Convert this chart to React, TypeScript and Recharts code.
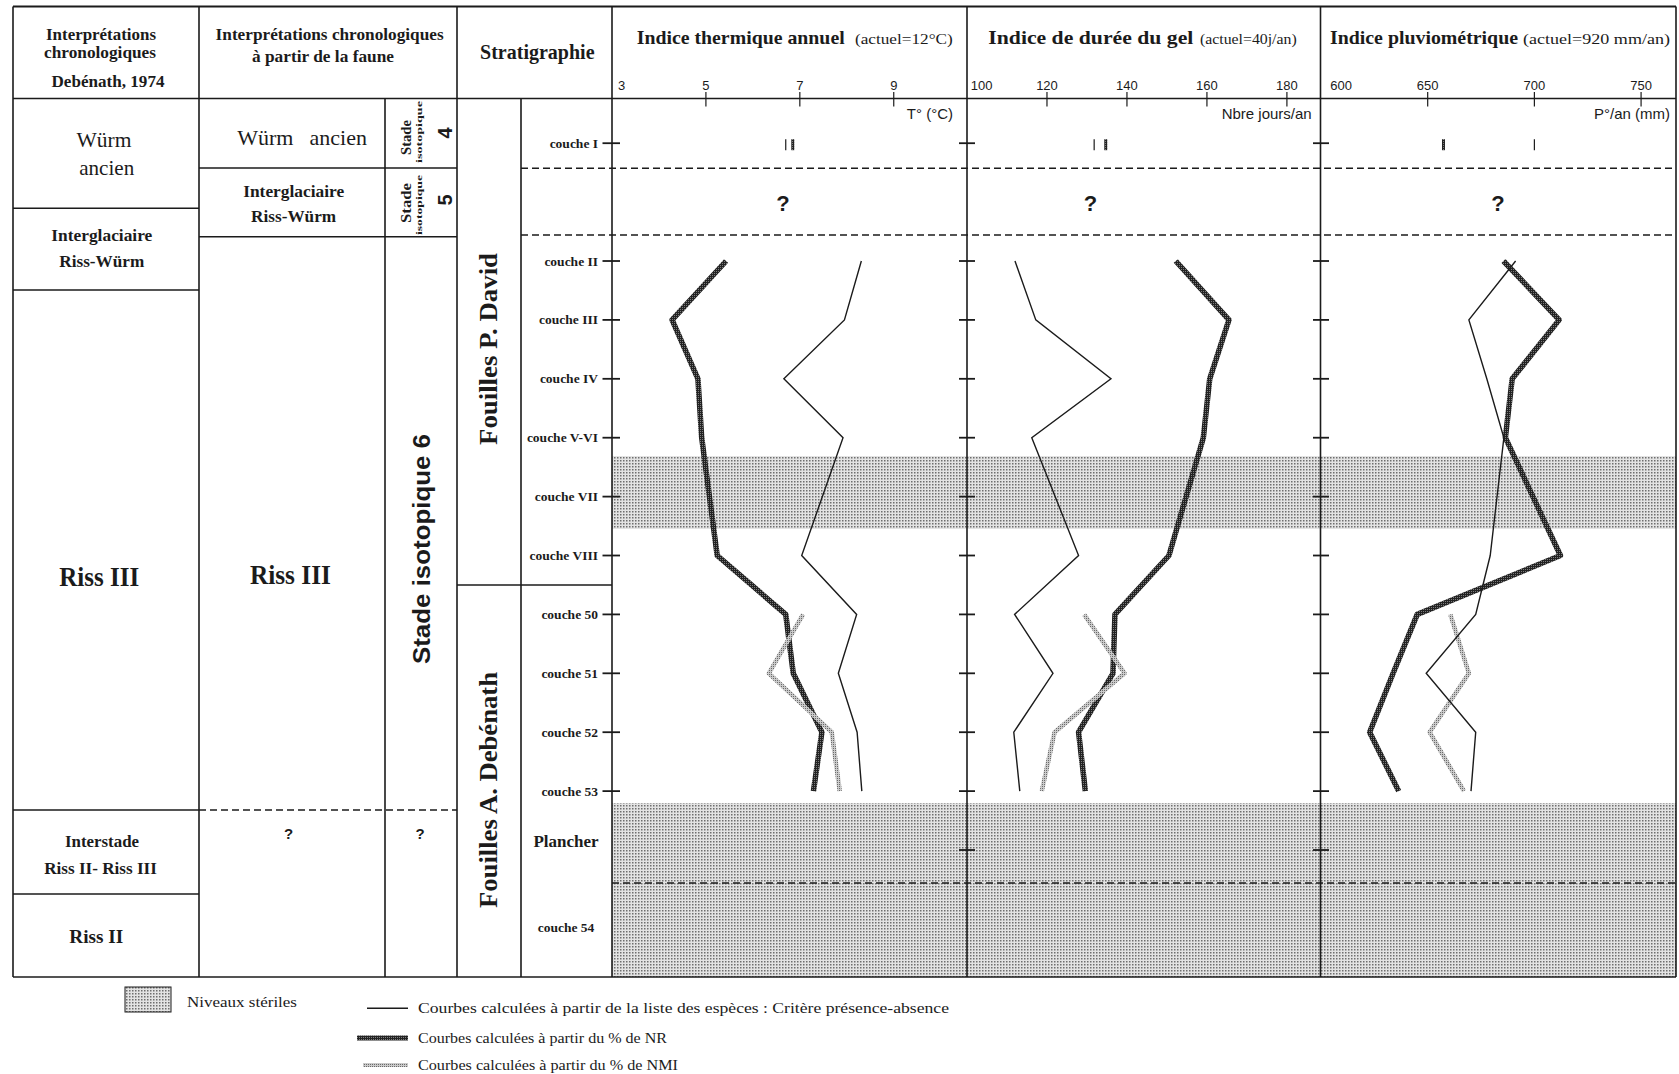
import React from "react"
import { ComposedChart, Line, XAxis, YAxis, ReferenceArea } from "recharts"

// ---- data ----
const layers = [
  "couche II", "couche III", "couche IV", "couche V-VI", "couche VII",
  "couche VIII", "couche 50", "couche 51", "couche 52", "couche 53",
]
const layerPos = [2, 3, 4, 5, 6, 7, 8, 9, 10, 11]

const axisLabels = [
  "couche I", "couche II", "couche III", "couche IV", "couche V-VI", "couche VII",
  "couche VIII", "couche 50", "couche 51", "couche 52", "couche 53", "Plancher", "couche 54",
]
const axisLabelPos = [0, 2, 3, 4, 5, 6, 7, 8, 9, 10, 11, 12, 13.31]
const tickPos = [0, 2, 3, 4, 5, 6, 7, 8, 9, 10, 11, 12]

// niveaux stériles (in layer units)
const sterileBands: [number, number][] = [
  [5.31, 6.55],
  [11.2, 14.156],
]

// Indice thermique annuel (°C)
const tempTicks = [3, 5, 7, 9]
const tempPA = [8.31, 7.95, 6.66, 7.92, null, 7.04, 8.21, 7.82, 8.22, 8.32]
const tempNR = [5.43, 4.28, 4.83, 4.91, null, 5.24, 6.7, 6.86, 7.47, 7.29]
const tempNMI = [null, null, null, null, null, null, 7.07, 6.34, 7.68, 7.85]
const tempCoucheI = [6.7, 6.85] // présence-absence, NR

// Indice de durée du gel (jours/an)
const gelTicks = [100, 120, 140, 160, 180]
const gelPA = [112.0, 117.2, 136.0, 116.2, null, 127.9, 111.9, 121.5, 111.7, 113.2]
const gelNR = [152.2, 165.5, 160.7, 159.1, null, 150.5, 137.0, 136.5, 127.9, 129.6]
const gelNMI = [null, null, null, null, null, null, 129.3, 139.4, 121.9, 118.7]
const gelCoucheI = [131.8, 134.7]

// Indice pluviométrique (mm/an)
const pluvTicks = [600, 650, 700, 750]
const pluvPA = [691.2, 669.3, 677.7, 685.7, null, 679.3, 672.5, 649.3, 672.5, 670.3]
const pluvNR = [685.5, 711.6, 689.6, 686.4, null, 712.2, 645.1, 633.8, 622.8, 636.4]
const pluvNMI = [null, null, null, null, null, null, 660.6, 669.3, 650.9, 667.0]
const pluvCoucheI = [700.0, 657.4]

const buildRows = (pa: (number | null)[], nr: (number | null)[], nmi: (number | null)[]) =>
  layers.map((name, i) => ({ name, pos: layerPos[i], pa: pa[i], nr: nr[i], nmi: nmi[i] }))

// ---- look ----
const INK = "#1b1b1b"
const SERIF = "'Liberation Serif', 'Times New Roman', serif"
const SANS = "'Liberation Sans', Arial, sans-serif"
const CHART_TOP = 40
const CHART_H = 937
const AXIS_H = 58.5
const Y_DOMAIN: [number, number] = [-0.759, 14.156]

function TopTick(props: any) {
  const { x, y, payload, index, lead } = props
  const first = index === 0
  return (
    <g>
      {!first && <line x1={x} x2={x} y1={y - 6.5} y2={y + 8} stroke={INK} strokeWidth={1.2} />}
      <text
        x={first ? x + lead : x}
        y={y - 8.5}
        textAnchor={first ? "start" : "middle"}
        fontFamily={SANS}
        fontSize={13}
        fill={INK}
      >
        {payload.value}
      </text>
    </g>
  )
}

function LabelTick(props: any) {
  const { x, y, payload } = props
  const name = axisLabels[axisLabelPos.indexOf(payload.value)]
  const plancher = name === "Plancher"
  const centred = plancher || name === "couche 54"
  return (
    <g>
      {!centred && <line x1={x - 9.5} x2={x + 8} y1={y} y2={y} stroke={INK} strokeWidth={1.8} />}
      <text
        x={centred ? x - 46 : x - 14}
        y={plancher ? y - 3.5 : y + 4.5}
        textAnchor={centred ? "middle" : "end"}
        fontFamily={SERIF}
        fontWeight="bold"
        fontSize={plancher ? 17 : 13.5}
        fill={INK}
      >
        {name}
      </text>
    </g>
  )
}

function CrossTick(props: any) {
  const { x, y } = props
  return <line x1={x - 8} x2={x + 8} y1={y} y2={y} stroke={INK} strokeWidth={1.8} />
}

const paMark = (p: any) => (
  <line key={`pa${p.index}`} x1={p.cx} x2={p.cx} y1={p.cy - 4} y2={p.cy + 7} stroke={INK} strokeWidth={1.2} />
)
const nrMark = (p: any) => (
  <rect key={`nr${p.index}`} x={p.cx - 1.5} y={p.cy - 4} width={3} height={11} fill="url(#nrTex)" />
)

interface PanelProps {
  left: number
  width: number
  yWidth: number
  domain: [number, number]
  ticks: number[]
  lead: number
  rows: any[]
  coucheI: number[]
  labels: boolean
}

function Panel({ left, width, yWidth, domain, ticks, lead, rows, coucheI, labels }: PanelProps) {
  return (
    <div style={{ position: "absolute", left, top: CHART_TOP, width, height: CHART_H }}>
      <ComposedChart
        width={width}
        height={CHART_H}
        layout="vertical"
        data={rows}
        margin={{ top: 0, right: 0, bottom: 0, left: 0 }}
      >
        <XAxis
          type="number"
          orientation="top"
          domain={domain}
          ticks={ticks}
          allowDataOverflow
          height={AXIS_H}
          axisLine={false}
          tickLine={false}
          tickSize={0}
          tickMargin={0}
          interval={0}
          tick={(p: any) => <TopTick {...p} lead={lead} />}
        />
        <YAxis
          type="number"
          dataKey="pos"
          domain={Y_DOMAIN}
          allowDataOverflow
          ticks={labels ? axisLabelPos : tickPos}
          width={yWidth}
          axisLine={false}
          tickLine={false}
          tickSize={0}
          tickMargin={0}
          interval={0}
          tick={(p: any) => (labels ? <LabelTick {...p} /> : <CrossTick {...p} />)}
        />
        {sterileBands.map(([a, b], i) => (
          <ReferenceArea key={i} y1={a} y2={b} fill="url(#sterile)" fillOpacity={1} stroke="none" ifOverflow="visible" />
        ))}
        <Line dataKey="nr" stroke="url(#nrTex)" strokeWidth={5.5} strokeLinejoin="round" dot={false} connectNulls={false} isAnimationActive={false} />
        <Line dataKey="nmi" stroke="url(#nmiTex)" strokeWidth={4.5} strokeLinejoin="round" dot={false} connectNulls={false} isAnimationActive={false} />
        <Line dataKey="pa" stroke={INK} strokeWidth={1.4} dot={false} connectNulls={false} isAnimationActive={false} />
        <Line data={[{ pos: 0, v: coucheI[1] }]} dataKey="v" stroke="none" dot={nrMark} isAnimationActive={false} />
        <Line data={[{ pos: 0, v: coucheI[0] }]} dataKey="v" stroke="none" dot={paMark} isAnimationActive={false} />
      </ComposedChart>
    </div>
  )
}

function T({ x, y, s, w, b, a = "middle", f = SERIF, r, children }: any) {
  return (
    <text
      x={x}
      y={y}
      fontSize={s}
      fontWeight={b ? "bold" : "normal"}
      textAnchor={a}
      fontFamily={f}
      textLength={w}
      lengthAdjust={w ? "spacingAndGlyphs" : undefined}
      transform={r ? `rotate(-90 ${x} ${y})` : undefined}
      fill={INK}
    >
      {children}
    </text>
  )
}

const hLines = [
  [13, 1676, 6.5], [13, 1676, 98.5], [13, 1676, 977],
  [13, 199, 208.3], [13, 199, 290], [13, 199, 810], [13, 199, 894],
  [199, 457, 168], [199, 457, 236.7], [457, 612, 585],
]
const vLines = [
  [13, 6.5, 977], [199, 6.5, 977], [385, 98.5, 977], [457, 6.5, 977], [521, 98.5, 977],
  [612, 6.5, 977], [967, 6.5, 977], [1320.5, 6.5, 977], [1676, 6.5, 977],
]
const dashed = [
  [199, 457, 810], [521, 1676, 168.3], [521, 1676, 235], [612, 1676, 883],
]

export default function App() {
  return (
    <div style={{ position: "absolute", left: 0, top: 0, width: 1679, height: 1074, background: "#fff" }}>
      <svg width={0} height={0} style={{ position: "absolute" }}>
        <defs>
          <pattern id="sterile" width={3} height={3} patternUnits="userSpaceOnUse">
            <rect width={3} height={3} fill="#e3e3e3" />
            <rect width={1.5} height={1.5} fill="#6e6e6e" />
          </pattern>
          <pattern id="nrTex" width={2} height={2} patternUnits="userSpaceOnUse">
            <rect width={2} height={2} fill="#222222" />
            <rect x={1} y={1} width={1} height={1} fill="#7c7c7c" />
          </pattern>
          <pattern id="nmiTex" width={2} height={2} patternUnits="userSpaceOnUse">
            <rect width={2} height={2} fill="#cacaca" />
            <rect width={1} height={1} fill="#6a6a6a" />
          </pattern>
        </defs>
      </svg>

      <Panel left={521} width={446} yWidth={91} domain={[3, 10.56]} ticks={tempTicks} lead={6}
        rows={buildRows(tempPA, tempNR, tempNMI)} coucheI={tempCoucheI} labels />
      <Panel left={952} width={368.5} yWidth={15} domain={[100, 188.4]} ticks={gelTicks} lead={3.7}
        rows={buildRows(gelPA, gelNR, gelNMI)} coucheI={gelCoucheI} labels={false} />
      <Panel left={1305.5} width={370.5} yWidth={15} domain={[600, 766.6]} ticks={pluvTicks} lead={9.3}
        rows={buildRows(pluvPA, pluvNR, pluvNMI)} coucheI={pluvCoucheI} labels={false} />

      <svg width={1679} height={1074} style={{ position: "absolute", left: 0, top: 0, pointerEvents: "none" }}>
        {hLines.map(([x1, x2, y], i) => (
          <line key={`h${i}`} x1={x1} x2={x2} y1={y} y2={y} stroke={INK} strokeWidth={i === 0 ? 2.2 : 1.6} />
        ))}
        {vLines.map(([x, y1, y2], i) => (
          <line key={`v${i}`} x1={x} x2={x} y1={y1} y2={y2} stroke={INK} strokeWidth={1.6} />
        ))}
        {dashed.map(([x1, x2, y], i) => (
          <line key={`d${i}`} x1={x1} x2={x2} y1={y} y2={y} stroke={INK} strokeWidth={1.5} strokeDasharray="7 4" />
        ))}

        {/* column 1 */}
        <T x={101} y={40} s={16.5} b w={110}>Interprétations</T>
        <T x={100} y={58} s={16.5} b w={112}>chronologiques</T>
        <T x={108} y={87} s={16.5} b w={113}>Debénath, 1974</T>
        <T x={104} y={147} s={22} w={55}>Würm</T>
        <T x={106.7} y={175} s={22} w={55}>ancien</T>
        <T x={101.8} y={241} s={17} b w={101}>Interglaciaire</T>
        <T x={101.8} y={267} s={17} b w={85}>Riss-Würm</T>
        <T x={99.2} y={586} s={27} b w={80}>Riss III</T>
        <T x={102} y={847} s={17} b w={74}>Interstade</T>
        <T x={100.6} y={874} s={16.5} b w={112.7}>Riss II- Riss III</T>
        <T x={96.3} y={943} s={19.5} b w={54}>Riss II</T>

        {/* column 2 */}
        <T x={329.6} y={39.5} s={16.5} b w={228}>Interprétations chronologiques</T>
        <T x={323} y={62} s={16.5} b w={142}>à partir de la faune</T>
        <T x={237.2} y={145} s={22} a="start">Würm</T>
        <T x={366.9} y={145} s={22} a="end">ancien</T>
        <T x={293.7} y={196.5} s={17} b w={101}>Interglaciaire</T>
        <T x={293.6} y={222} s={17} b w={85}>Riss-Würm</T>
        <T x={290.4} y={584} s={27} b w={81}>Riss III</T>
        <T x={288.6} y={839} s={15} b f={SANS}>?</T>

        {/* stades isotopiques */}
        <T x={411} y={137.5} s={15} b w={35} r>Stade</T>
        <T x={422} y={132} s={8.5} b w={62} r>isotopique</T>
        <T x={452} y={133} s={20} b f={SANS} r>4</T>
        <T x={411} y={203} s={15} b w={40} r>Stade</T>
        <T x={422} y={205} s={8.5} b w={60} r>isotopique</T>
        <T x={452} y={200} s={20} b f={SANS} r>5</T>
        <T x={430} y={549} s={23} b f={SANS} w={230} r>Stade isotopique 6</T>
        <T x={420} y={839} s={15} b f={SANS}>?</T>

        {/* stratigraphie */}
        <T x={537.3} y={59} s={20} b>Stratigraphie</T>
        <T x={497} y={349} s={25} b w={192} r>Fouilles P. David</T>
        <T x={497} y={790} s={25} b w={236} r>Fouilles A. Debénath</T>

        {/* panel headers */}
        <T x={636.7} y={44} s={19} b w={208} a="start">Indice thermique annuel</T>
        <T x={855} y={44} s={15} w={97.7} a="start">(actuel=12°C)</T>
        <T x={988.3} y={44} s={19} b w={205} a="start">Indice de durée du gel</T>
        <T x={1200} y={44} s={15} w={96.7} a="start">(actuel=40j/an)</T>
        <T x={1330} y={44} s={19} b w={188} a="start">Indice pluviométrique</T>
        <T x={1523} y={44} s={15} w={147} a="start">(actuel=920 mm/an)</T>

        <T x={953} y={118.5} s={15} f={SANS} a="end">T° (°C)</T>
        <T x={1311.7} y={118.5} s={15} f={SANS} a="end">Nbre jours/an</T>
        <T x={1670} y={118.5} s={15} f={SANS} a="end">P°/an (mm)</T>

        <T x={783} y={211} s={22} b f={SANS}>?</T>
        <T x={1090.5} y={211} s={22} b f={SANS}>?</T>
        <T x={1498} y={211} s={22} b f={SANS}>?</T>

        {/* legend */}
        <rect x={125} y={987} width={46} height={25} fill="url(#sterile)" stroke={INK} strokeWidth={1} />
        <T x={187} y={1006.5} s={15} w={110} a="start">Niveaux stériles</T>
        <line x1={367} x2={408} y1={1008.3} y2={1008.3} stroke={INK} strokeWidth={1.4} />
        <T x={418} y={1012.5} s={15} w={531} a="start">Courbes calculées à partir de la liste des espèces : Critère présence-absence</T>
        <line x1={357} x2={408} y1={1038} y2={1038} stroke="url(#nrTex)" strokeWidth={5} />
        <T x={418} y={1042.5} s={15} w={249} a="start">Courbes calculées à partir du % de NR</T>
        <line x1={363} x2={408} y1={1065} y2={1065} stroke="url(#nmiTex)" strokeWidth={4} />
        <T x={418} y={1069.5} s={15} w={260} a="start">Courbes calculées à partir du % de NMI</T>
      </svg>
    </div>
  )
}
